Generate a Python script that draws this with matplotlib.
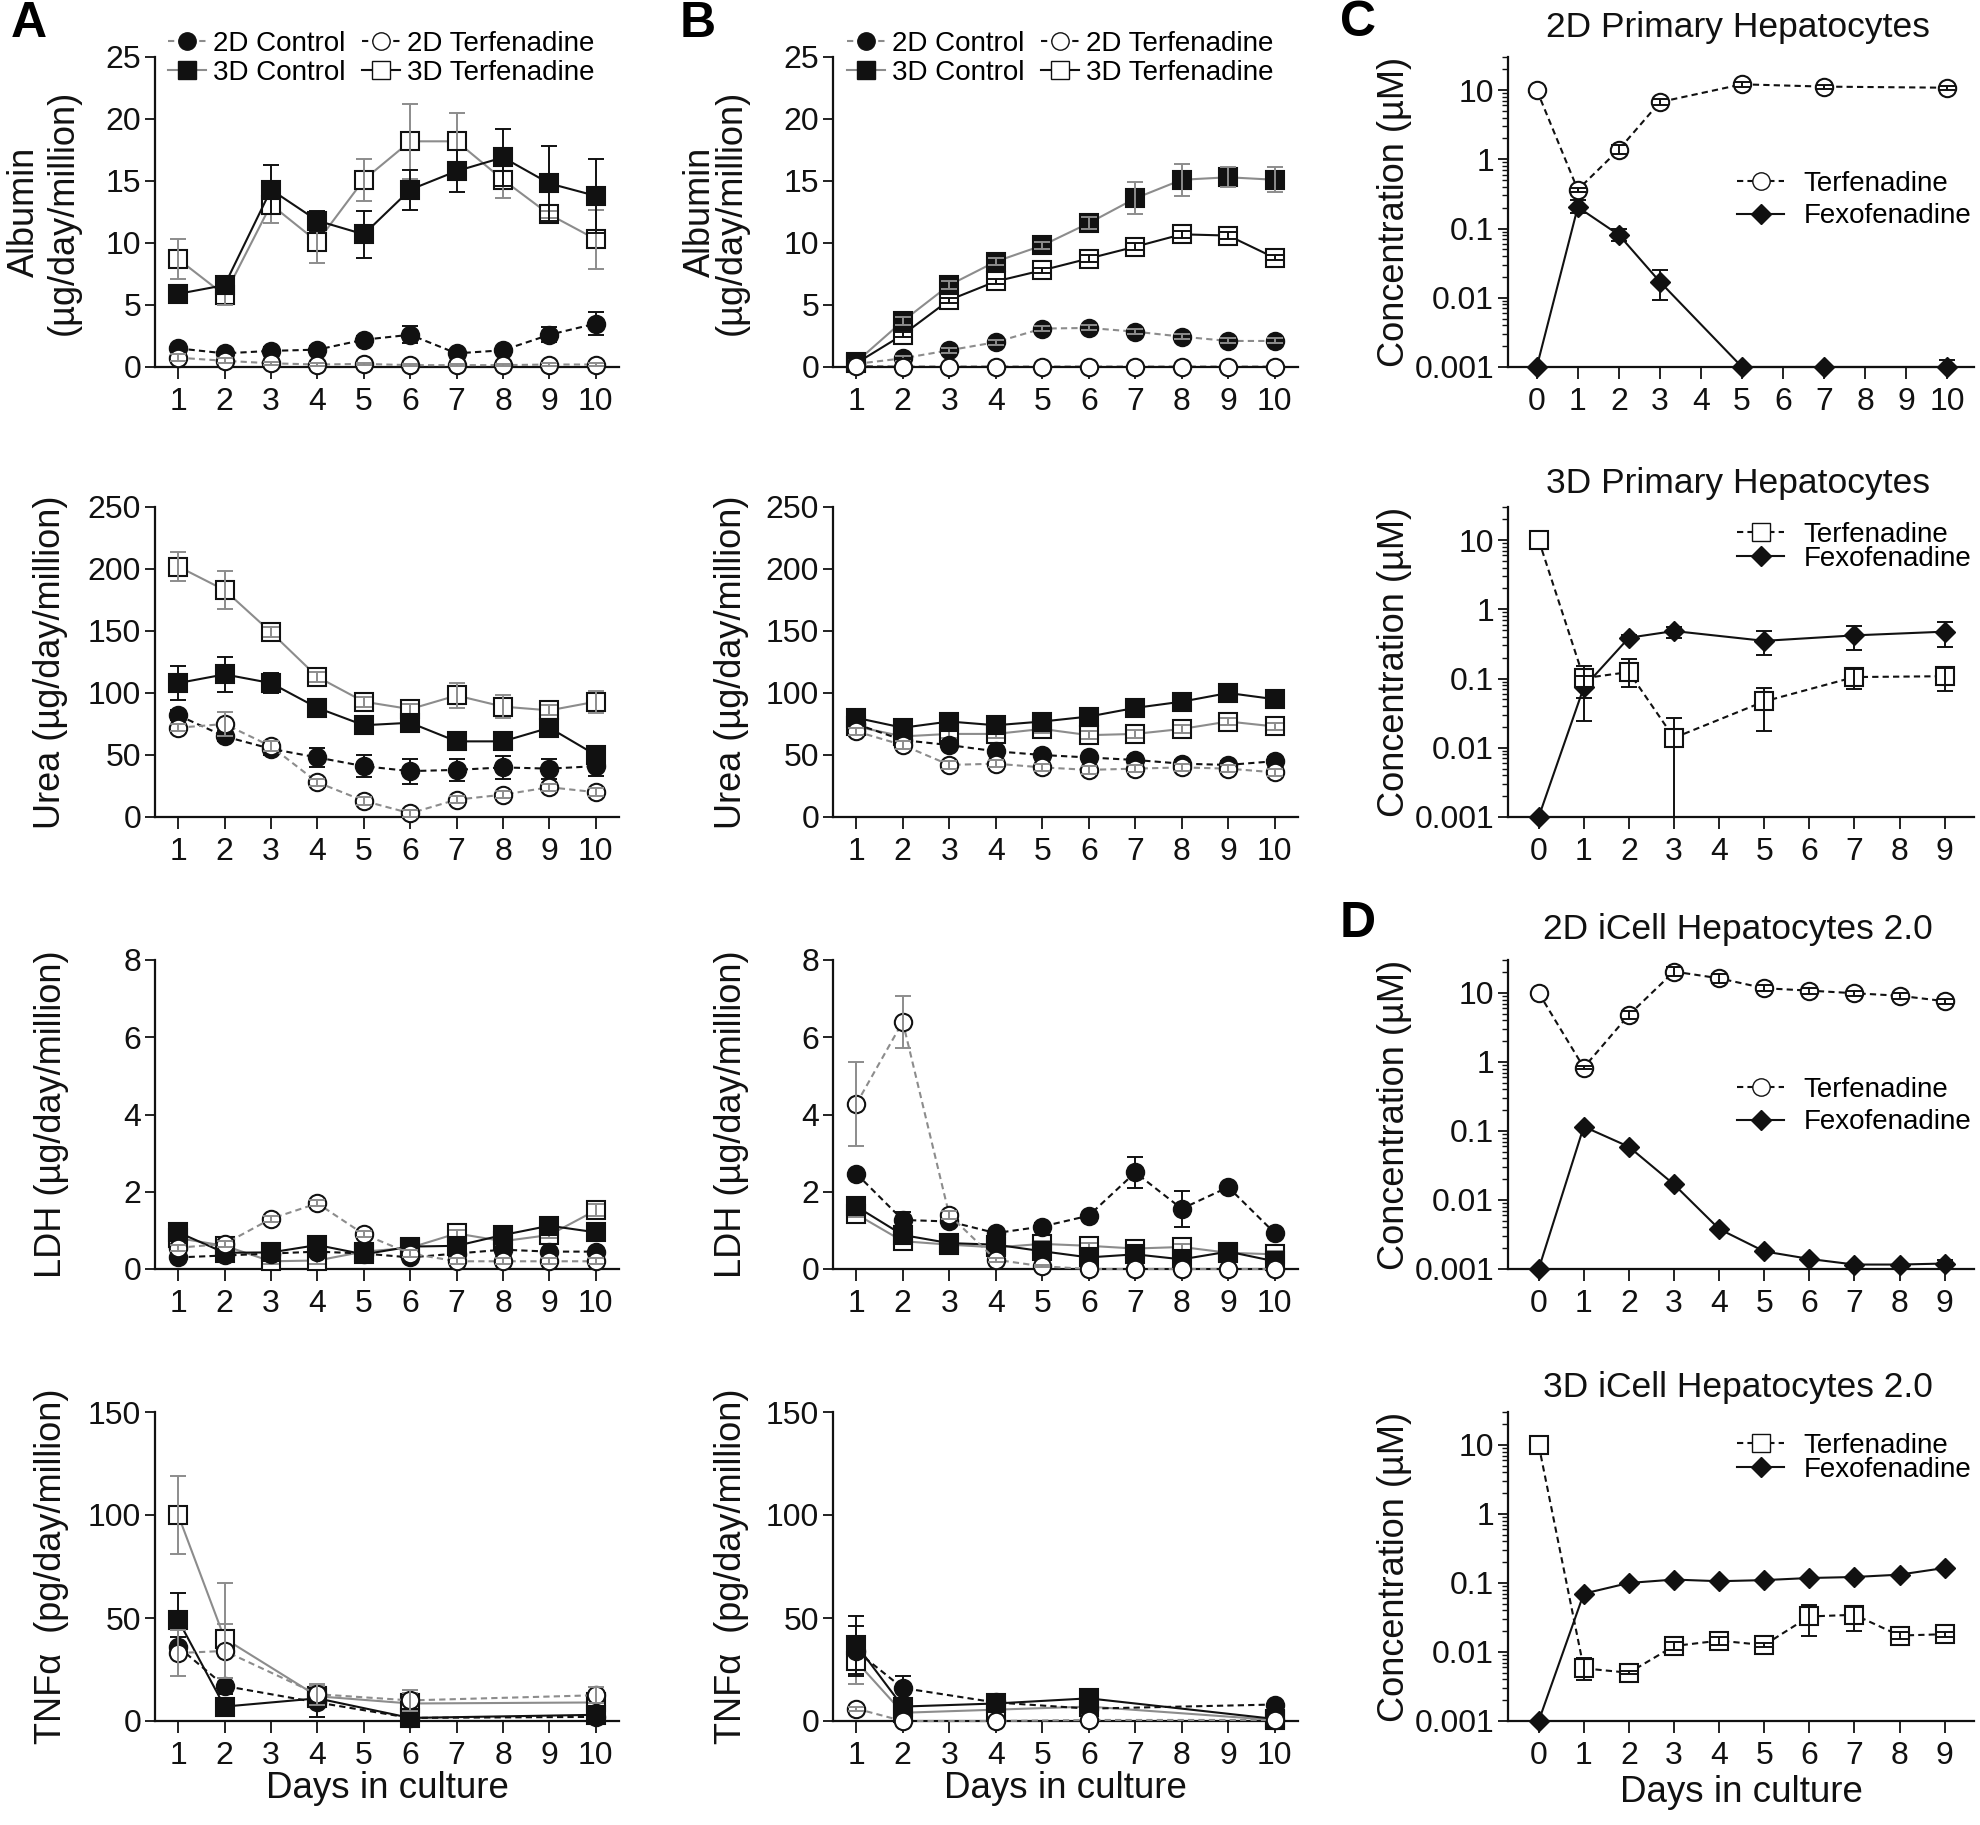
import numpy as np
import matplotlib
matplotlib.use('Agg')
import matplotlib.pyplot as plt
from matplotlib.lines import Line2D
from matplotlib.ticker import FixedLocator, FixedFormatter, LogLocator, NullFormatter

W, H, DPI = 1981, 1825, 100
plt.rcParams['font.family'] = ['Liberation Sans', 'DejaVu Sans']

# ---------------- data ----------------
days = [1, 2, 3, 4, 5, 6, 7, 8, 9, 10]
days_tnf = [1, 2, 4, 6, 10]

alb_a_2dc = [1.5, 1.1, 1.3, 1.4, 2.2, 2.6, 1.1, 1.35, 2.6, 3.5]
alb_a_2dc_err = [0.3, 0.2, 0.3, 0.3, 0.3, 0.7, 0.3, 0.3, 0.6, 0.9]
alb_a_2dt = [0.75, 0.5, 0.3, 0.2, 0.25, 0.15, 0.15, 0.15, 0.2, 0.2]
alb_a_2dt_err = [0.3, 0.2, 0.1, 0.1, 0.1, 0.1, 0.1, 0.1, 0.1, 0.1]
alb_a_3dc = [5.9, 6.6, 14.3, 11.8, 10.7, 14.3, 15.8, 16.9, 14.8, 13.8]
alb_a_3dc_err = [0.6, 0.6, 2.0, 0.8, 1.9, 1.6, 1.7, 2.3, 3.0, 3.0]
alb_a_3dt = [8.7, 5.8, 13.1, 10.1, 15.1, 18.2, 18.2, 15.1, 12.3, 10.3]
alb_a_3dt_err = [1.6, 0.8, 1.5, 1.7, 1.7, 3.0, 2.3, 1.5, 0.3, 2.4]

alb_b_2dc = [0.25, 0.7, 1.35, 2.0, 3.1, 3.15, 2.85, 2.45, 2.1, 2.1]
alb_b_2dc_err = [0.1, 0.2, 0.2, 0.2, 0.2, 0.2, 0.2, 0.2, 0.2, 0.2]
alb_b_2dt = [0.05, 0.02, 0.02, 0.02, 0.02, 0.02, 0.02, 0.02, 0.02, 0.02]
alb_b_2dt_err = [0, 0, 0, 0, 0, 0, 0, 0, 0, 0]
alb_b_3dc = [0.4, 3.7, 6.6, 8.5, 9.8, 11.6, 13.6, 15.1, 15.3, 15.1]
alb_b_3dc_err = [0.2, 0.3, 0.3, 0.3, 0.3, 0.5, 1.3, 1.3, 0.8, 1.0]
alb_b_3dt = [0.3, 2.6, 5.4, 6.9, 7.8, 8.75, 9.7, 10.7, 10.6, 8.8]
alb_b_3dt_err = [0.1, 0.2, 0.2, 0.2, 0.2, 0.3, 0.3, 0.3, 0.3, 0.2]

urea_a_2dc = [82, 65, 55, 48, 41, 37, 38, 40, 39, 41]
urea_a_2dc_err = [4, 4, 5, 8, 9, 10, 9, 9, 8, 8]
urea_a_2dt = [72, 75, 57, 28, 13, 3, 14, 18, 24, 20]
urea_a_2dt_err = [3, 10, 4, 3, 3, 3, 3, 3, 3, 3]
urea_a_3dc = [108, 115, 108, 88, 74, 76, 61, 61, 72, 50]
urea_a_3dc_err = [14, 14, 8, 4, 4, 4, 4, 4, 5, 4]
urea_a_3dt = [202, 183, 149, 113, 93, 87, 98, 89, 86, 93]
urea_a_3dt_err = [12, 15, 4, 4, 4, 4, 10, 9, 4, 9]

urea_b_2dc = [75, 62, 58, 53, 50, 48, 46, 43, 42, 45]
urea_b_2dc_err = [3, 3, 3, 3, 3, 3, 3, 3, 3, 3]
urea_b_2dt = [69, 58, 42, 43, 40, 38, 39, 40, 39, 36]
urea_b_2dt_err = [3, 3, 3, 3, 3, 3, 3, 3, 3, 3]
urea_b_3dc = [80, 72, 77, 74, 77, 81, 88, 93, 100, 95]
urea_b_3dc_err = [3, 3, 3, 3, 3, 3, 3, 3, 3, 5]
urea_b_3dt = [73, 65, 67, 67, 71, 66, 67, 71, 77, 73]
urea_b_3dt_err = [3, 3, 3, 3, 3, 3, 3, 3, 3, 3]

ldh_a_2dc = [0.3, 0.35, 0.4, 0.45, 0.4, 0.3, 0.4, 0.5, 0.45, 0.45]
ldh_a_2dc_err = [0.08] * 10
ldh_a_2dt = [0.55, 0.65, 1.3, 1.7, 0.9, 0.4, 0.2, 0.2, 0.2, 0.2]
ldh_a_2dt_err = [0.08] * 10
ldh_a_3dc = [0.95, 0.42, 0.43, 0.62, 0.38, 0.58, 0.6, 0.88, 1.12, 0.95]
ldh_a_3dc_err = [0.08, 0.08, 0.08, 0.08, 0.08, 0.08, 0.08, 0.2, 0.15, 0.08]
ldh_a_3dt = [0.8, 0.6, 0.2, 0.22, 0.45, 0.55, 0.92, 0.72, 0.88, 1.52]
ldh_a_3dt_err = [0.08, 0.08, 0.08, 0.08, 0.08, 0.08, 0.08, 0.08, 0.08, 0.15]

ldh_b_2dc = [2.47, 1.27, 1.23, 0.93, 1.1, 1.38, 2.5, 1.56, 2.12, 0.93]
ldh_b_2dc_err = [0.08, 0.2, 0.08, 0.08, 0.08, 0.08, 0.4, 0.47, 0.08, 0.08]
ldh_b_2dt = [4.27, 6.4, 1.4, 0.24, 0.07, 0.0, 0.0, 0.0, 0.0, 0.0]
ldh_b_2dt_err = [1.08, 0.68, 0.1, 0.05, 0.03, 0, 0, 0, 0, 0]
ldh_b_3dc = [1.62, 0.88, 0.67, 0.63, 0.46, 0.3, 0.38, 0.25, 0.45, 0.2]
ldh_b_3dc_err = [0.08] * 10
ldh_b_3dt = [1.42, 0.72, 0.63, 0.56, 0.65, 0.6, 0.53, 0.57, 0.42, 0.38]
ldh_b_3dt_err = [0.08] * 10

tnf_a_2dc = [36, 17, 9, 1.5, 2]
tnf_a_2dc_err = [5, 4, 7, 1, 1]
tnf_a_2dt = [33, 34, 13, 10, 12.5]
tnf_a_2dt_err = [11, 13, 5, 5, 4]
tnf_a_3dc = [49, 7, 11, 1.5, 3]
tnf_a_3dc_err = [13, 2, 2, 1, 1]
tnf_a_3dt = [100, 40, 12, 8.5, 9]
tnf_a_3dt_err = [19, 27, 5, 5, 4]

tnf_b_2dc = [34, 16, 9, 6, 8]
tnf_b_2dc_err = [12, 6, 1, 1, 1]
tnf_b_2dt = [6, 0, 0, 0.5, 0.5]
tnf_b_2dt_err = [1, 0, 0, 0, 0]
tnf_b_3dc = [37, 7, 8.5, 11, 1]
tnf_b_3dc_err = [14, 3, 1, 2, 1]
tnf_b_3dt = [29, 4, 5.5, 7, 0.5]
tnf_b_3dt_err = [11, 2, 1, 2, 1]

# concentration panels (value, lower bound, upper bound)
c2d_days = [0, 1, 2, 3, 5, 7, 10]
c2d_terf = [10, 0.363, 1.38, 6.7, 12.1, 11.2, 10.8]
c2d_terf_lo = [10, 0.34, 1.2, 6.0, 11.2, 10.5, 10.1]
c2d_terf_hi = [10, 0.39, 1.6, 7.4, 13.0, 12.0, 11.5]
c2d_fexo = [0.001, 0.204, 0.081, 0.017, 0.001, 0.001, 0.001]
c2d_fexo_lo = [0.001, 0.167, 0.065, 0.0093, 0.001, 0.001, 0.001]
c2d_fexo_hi = [0.001, 0.26, 0.10, 0.025, 0.001, 0.001, 0.00125]

c3d_days = [0, 1, 2, 3, 5, 7, 9]
c3d_terf = [10, 0.101, 0.124, 0.0139, 0.0467, 0.105, 0.108]
c3d_terf_lo = [10, 0.053, 0.075, 0.001, 0.0173, 0.07, 0.066]
c3d_terf_hi = [10, 0.154, 0.19, 0.027, 0.072, 0.139, 0.14]
c3d_fexo = [0.001, 0.0746, 0.388, 0.485, 0.35, 0.42, 0.475]
c3d_fexo_lo = [0.001, 0.0247, 0.36, 0.38, 0.22, 0.254, 0.29]
c3d_fexo_hi = [0.001, 0.11, 0.42, 0.56, 0.485, 0.58, 0.65]

d2d_days = [0, 1, 2, 3, 4, 5, 6, 7, 8, 9]
d2d_terf = [10, 0.83, 4.8, 20.4, 16.3, 11.7, 10.8, 9.9, 9.1, 7.6]
d2d_terf_lo = [10, 0.8, 4.2, 17.5, 14.0, 10.5, 9.8, 9.0, 8.2, 6.9]
d2d_terf_hi = [10, 0.86, 5.4, 23.5, 18.5, 12.9, 11.8, 10.8, 10.0, 8.3]
d2d_fexo = [0.001, 0.1156, 0.059, 0.0168, 0.0038, 0.0018, 0.0014, 0.00116, 0.00116, 0.0012]
d2d_fexo_lo = d2d_fexo
d2d_fexo_hi = [0.001, 0.1156, 0.059, 0.0168, 0.0038, 0.0018, 0.0014, 0.00116, 0.00116, 0.00135]

d3d_days = [0, 1, 2, 3, 4, 5, 6, 7, 8, 9]
d3d_terf = [10, 0.0058, 0.0050, 0.0122, 0.0146, 0.0126, 0.0327, 0.0346, 0.0173, 0.0181]
d3d_terf_lo = [10, 0.0039, 0.0048, 0.0108, 0.0128, 0.0118, 0.017, 0.020, 0.0155, 0.0165]
d3d_terf_hi = [10, 0.0081, 0.0053, 0.0138, 0.0165, 0.0135, 0.048, 0.045, 0.0192, 0.0198]
d3d_fexo = [0.001, 0.070, 0.100, 0.112, 0.106, 0.110, 0.118, 0.122, 0.132, 0.165]
d3d_fexo_lo = d3d_fexo
d3d_fexo_hi = d3d_fexo

# ---------------- style ----------------
BLACK = '#111111'
GRAY = '#8c8c8c'
DASH = (0, (3.0, 2.0))
TICK_FS = 23
LEG_FS = 20
YLAB_FS = 26
XLAB_FS = 26.5
TITLE_FS = 25.5
LW = 1.5
MS_C, MS_S, MS_D = 12.5, 13, 10

fig = plt.figure(figsize=(W / DPI, H / DPI), dpi=DPI)


def add_ax(col, row):
    x0, x1 = col
    y0, y1 = row
    return fig.add_axes([x0 / W, 1 - y1 / H, (x1 - x0) / W, (y1 - y0) / H])


def style(ax):
    for s in ['top', 'right']:
        ax.spines[s].set_visible(False)
    for s in ['left', 'bottom']:
        ax.spines[s].set_linewidth(1.6)
        ax.spines[s].set_color(BLACK)
    ax.tick_params(axis='x', which='major', direction='out', length=8.5, width=1.3,
                   pad=6, labelsize=TICK_FS, colors=BLACK)
    ax.tick_params(axis='y', which='major', direction='out', length=7.5, width=1.3,
                   pad=2.5, labelsize=TICK_FS, colors=BLACK)


def series(ax, x, y, e, marker, filled, color, ls, z=3):
    y = np.asarray(y, float)
    e = np.asarray(e, float)
    ms = MS_C if marker == 'o' else MS_S
    ax.plot(x, y, ls=ls, color=color, lw=LW, marker=marker, ms=ms,
            mfc=BLACK if filled else 'white', mec=BLACK, mew=1.5,
            clip_on=False, zorder=z)
    m = e > 0
    if m.any():
        ax.errorbar(np.asarray(x)[m], y[m], yerr=e[m], fmt='none', ecolor=color,
                    elinewidth=1.4, capsize=6, capthick=1.4, clip_on=False, zorder=z + 1)


def lin_panel(ax, x, data, ylim, yticks, colors):
    style(ax)
    ax.set_xlim(0.5, 10.5)
    ax.set_ylim(*ylim)
    ax.set_xticks(days)
    ax.set_yticks(yticks)
    keys = ['3dt', '3dc', '2dc', '2dt']
    spec = {'2dc': ('o', True, '--'), '2dt': ('o', False, '--'),
            '3dc': ('s', True, '-'), '3dt': ('s', False, '-')}
    for i, k in enumerate(keys):
        mk, filled, ls = spec[k]
        y, e = data[k]
        series(ax, x, y, e, mk, filled, colors[k], DASH if ls == '--' else '-', z=3 + 2 * i)


cols = {'A': (155, 619), 'B': (833, 1298), 'C': (1508, 1974)}
rows = [(57, 367), (507, 817), (960, 1269), (1412, 1721)]

colA = {'2dc': BLACK, '2dt': GRAY, '3dc': BLACK, '3dt': GRAY}
colB_alb = {'2dc': GRAY, '2dt': BLACK, '3dc': GRAY, '3dt': BLACK}

panels = [
    ('A', 0, days, {'2dc': (alb_a_2dc, alb_a_2dc_err), '2dt': (alb_a_2dt, alb_a_2dt_err),
                    '3dc': (alb_a_3dc, alb_a_3dc_err), '3dt': (alb_a_3dt, alb_a_3dt_err)},
     (0, 25), [0, 5, 10, 15, 20, 25], colA),
    ('B', 0, days, {'2dc': (alb_b_2dc, alb_b_2dc_err), '2dt': (alb_b_2dt, alb_b_2dt_err),
                    '3dc': (alb_b_3dc, alb_b_3dc_err), '3dt': (alb_b_3dt, alb_b_3dt_err)},
     (0, 25), [0, 5, 10, 15, 20, 25], colB_alb),
    ('A', 1, days, {'2dc': (urea_a_2dc, urea_a_2dc_err), '2dt': (urea_a_2dt, urea_a_2dt_err),
                    '3dc': (urea_a_3dc, urea_a_3dc_err), '3dt': (urea_a_3dt, urea_a_3dt_err)},
     (0, 250), [0, 50, 100, 150, 200, 250], colA),
    ('B', 1, days, {'2dc': (urea_b_2dc, urea_b_2dc_err), '2dt': (urea_b_2dt, urea_b_2dt_err),
                    '3dc': (urea_b_3dc, urea_b_3dc_err), '3dt': (urea_b_3dt, urea_b_3dt_err)},
     (0, 250), [0, 50, 100, 150, 200, 250], colA),
    ('A', 2, days, {'2dc': (ldh_a_2dc, ldh_a_2dc_err), '2dt': (ldh_a_2dt, ldh_a_2dt_err),
                    '3dc': (ldh_a_3dc, ldh_a_3dc_err), '3dt': (ldh_a_3dt, ldh_a_3dt_err)},
     (0, 8), [0, 2, 4, 6, 8], colA),
    ('B', 2, days, {'2dc': (ldh_b_2dc, ldh_b_2dc_err), '2dt': (ldh_b_2dt, ldh_b_2dt_err),
                    '3dc': (ldh_b_3dc, ldh_b_3dc_err), '3dt': (ldh_b_3dt, ldh_b_3dt_err)},
     (0, 8), [0, 2, 4, 6, 8], colA),
    ('A', 3, days_tnf, {'2dc': (tnf_a_2dc, tnf_a_2dc_err), '2dt': (tnf_a_2dt, tnf_a_2dt_err),
                        '3dc': (tnf_a_3dc, tnf_a_3dc_err), '3dt': (tnf_a_3dt, tnf_a_3dt_err)},
     (0, 150), [0, 50, 100, 150], colA),
    ('B', 3, days_tnf, {'2dc': (tnf_b_2dc, tnf_b_2dc_err), '2dt': (tnf_b_2dt, tnf_b_2dt_err),
                        '3dc': (tnf_b_3dc, tnf_b_3dc_err), '3dt': (tnf_b_3dt, tnf_b_3dt_err)},
     (0, 150), [0, 50, 100, 150], colA),
]

ylabels_ab = ['Albumin\n(\u00b5g/day/million)', 'Urea (\u00b5g/day/million)',
              'LDH (\u00b5g/day/million)', 'TNF\u03b1  (pg/day/million)']
ylab_x = {'A': [44, 51, 52, 52], 'B': [716, 732, 732, 732]}
ylab_ls = {'A': 1.15, 'B': 0.85}


def xlabel_at(col, y):
    fig.text((cols[col][0] + cols[col][1]) / 2 / W, 1 - y / H, 'Days in culture',
             ha='center', va='center', fontsize=XLAB_FS, color=BLACK)


for col, r, x, data, ylim, yt, colors in panels:
    ax = add_ax(cols[col], rows[r])
    lin_panel(ax, x, data, ylim, yt, colors)
    yc = (rows[r][0] + rows[r][1]) / 2
    fig.text(ylab_x[col][r] / W, 1 - yc / H, ylabels_ab[r], rotation=90, ha='center',
             va='center', fontsize=YLAB_FS, linespacing=ylab_ls[col],
             multialignment='center', color=BLACK)
    if r == 3:
        xlabel_at(col, 1788)
    if r == 0:
        hs = [Line2D([], [], color=GRAY, ls=DASH, lw=LW, marker='o', ms=MS_C, mfc=BLACK, mec=BLACK),
              Line2D([], [], color=GRAY, ls='-', lw=LW, marker='s', ms=MS_S, mfc=BLACK, mec=BLACK),
              Line2D([], [], color=BLACK, ls=DASH, lw=LW, marker='o', ms=MS_C, mfc='white', mec=BLACK),
              Line2D([], [], color=BLACK, ls='-', lw=LW, marker='s', ms=MS_S, mfc='white', mec=BLACK)]
        labs = ['2D Control', '3D Control', '2D Terfenadine', '3D Terfenadine']
        lx = 168 if col == 'A' else 847
        ax.legend(hs, labs, ncol=2, loc='upper left', bbox_to_anchor=(lx / W, 1 - 31 / H),
                  bbox_transform=fig.transFigure, frameon=False, fontsize=LEG_FS,
                  handlelength=1.37, handletextpad=0.25, columnspacing=0.6,
                  labelspacing=0.1, borderpad=0, borderaxespad=0)


def log_panel(row, x, terf, tlo, thi, fexo, flo, fhi, tmarker, xlim, xticks, title,
              leg_top, leg_ls):
    ax = add_ax(cols['C'], rows[row])
    style(ax)
    ax.set_yscale('log')
    ax.set_ylim(0.001, 30)
    ax.set_xlim(*xlim)
    ax.set_xticks(xticks)
    ax.yaxis.set_major_locator(FixedLocator([0.001, 0.01, 0.1, 1, 10]))
    ax.yaxis.set_major_formatter(FixedFormatter(['0.001', '0.01', '0.1', '1', '10']))
    ax.yaxis.set_minor_locator(LogLocator(base=10, subs=np.arange(2, 10), numticks=20))
    ax.yaxis.set_minor_formatter(NullFormatter())
    ax.tick_params(axis='y', which='minor', direction='out', length=4, width=1.0, colors=BLACK)
    ax.tick_params(axis='x', which='minor', length=0)
    terf = np.asarray(terf, float)
    fexo = np.asarray(fexo, float)
    ms_t = MS_C if tmarker == 'o' else MS_S
    ax.plot(x, fexo, ls='-', color=BLACK, lw=LW, marker='D', ms=MS_D, mfc=BLACK, mec=BLACK,
            clip_on=False, zorder=3)
    ax.plot(x, terf, ls=DASH, color=BLACK, lw=LW, marker=tmarker, ms=ms_t, mfc='white',
            mec=BLACK, mew=1.5, clip_on=False, zorder=4)
    for y, lo, hi in ((terf, tlo, thi), (fexo, flo, fhi)):
        lo = np.asarray(lo, float)
        hi = np.asarray(hi, float)
        m = (hi > y) | (lo < y)
        if m.any():
            ax.errorbar(np.asarray(x)[m], y[m], yerr=[y[m] - lo[m], hi[m] - y[m]], fmt='none',
                        ecolor=BLACK, elinewidth=1.4, capsize=6, capthick=1.4,
                        clip_on=False, zorder=5)
    yc = (rows[row][0] + rows[row][1]) / 2
    fig.text(1394 / W, 1 - yc / H, 'Concentration (\u00b5M)', rotation=90, ha='center',
             va='center', fontsize=YLAB_FS, color=BLACK)
    fig.text(1738 / W, 1 - title[1] / H, title[0], ha='center', va='center',
             fontsize=TITLE_FS, color=BLACK)
    hs = [Line2D([], [], color=BLACK, ls=DASH, lw=LW, marker=tmarker, ms=ms_t, mfc='white', mec=BLACK),
          Line2D([], [], color=BLACK, ls='-', lw=LW, marker='D', ms=MS_D, mfc=BLACK, mec=BLACK)]
    ax.legend(hs, ['Terfenadine', 'Fexofenadine'], loc='upper left',
              bbox_to_anchor=(1737 / W, 1 - leg_top / H), bbox_transform=fig.transFigure,
              frameon=False, fontsize=LEG_FS, handlelength=1.7, handletextpad=0.7,
              labelspacing=leg_ls, borderpad=0, borderaxespad=0)
    return ax


log_panel(0, c2d_days, c2d_terf, c2d_terf_lo, c2d_terf_hi, c2d_fexo, c2d_fexo_lo, c2d_fexo_hi,
          'o', (-0.7, 10.65), list(range(11)), ('2D Primary Hepatocytes', 27), 171, 0.23)
log_panel(1, c3d_days, c3d_terf, c3d_terf_lo, c3d_terf_hi, c3d_fexo, c3d_fexo_lo, c3d_fexo_hi,
          's', (-0.68, 9.65), list(range(10)), ('3D Primary Hepatocytes', 483), 522, -0.08)
log_panel(2, d2d_days, d2d_terf, d2d_terf_lo, d2d_terf_hi, d2d_fexo, d2d_fexo_lo, d2d_fexo_hi,
          'o', (-0.68, 9.65), list(range(10)), ('2D iCell Hepatocytes 2.0', 930), 1077, 0.23)
log_panel(3, d3d_days, d3d_terf, d3d_terf_lo, d3d_terf_hi, d3d_fexo, d3d_fexo_lo,
          d3d_fexo_hi, 's', (-0.68, 9.65), list(range(10)),
          ('3D iCell Hepatocytes 2.0', 1387), 1433, -0.08)
xlabel_at('C', 1793)

for letter, (lx, ly) in {'A': (29, 24), 'B': (698, 24), 'C': (1358, 23), 'D': (1358, 924)}.items():
    fig.text(lx / W, 1 - ly / H, letter, ha='center', va='center', fontsize=36,
             weight='bold', color='black')

fig.savefig('out.png', dpi=DPI, facecolor='white')
